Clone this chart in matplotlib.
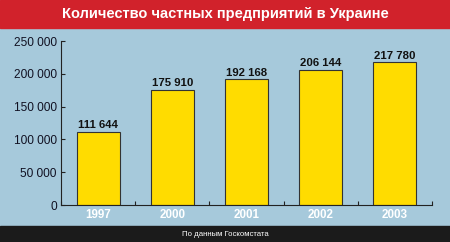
import matplotlib
matplotlib.use('Agg')
import matplotlib.pyplot as plt
import numpy as np

# данные
years = ['1997', '2000', '2001', '2002', '2003']
counts = [111644, 175910, 192168, 206144, 217780]
value_labels = ['111 644', '175 910', '192 168', '206 144', '217 780']
yticks = [0, 50000, 100000, 150000, 200000, 250000]
ytick_labels = ['0', '50 000', '100 000', '150 000', '200 000', '250 000']

title = 'Количество частных предприятий в Украине'
source = 'По данным Госкомстата'

plt.rcParams['font.family'] = ['Liberation Sans', 'DejaVu Sans']

fig = plt.figure(figsize=(4.5, 2.42), dpi=100)
fig.patch.set_facecolor('#a6c9db')

# красная шапка и чёрная подпись
fig.patches.append(plt.Rectangle((0, 1 - 28 / 242), 1, 28 / 242, transform=fig.transFigure,
                                 color='#d1222b', zorder=0))
fig.patches.append(plt.Rectangle((0, 0), 1, 16 / 242, transform=fig.transFigure,
                                 color='#1b1b1b', zorder=0))
fig.text(0.5, 1 - 14 / 242, title, color='white', fontsize=10.5, fontweight='bold',
         ha='center', va='center')
fig.text(0.5, 8 / 242, source, color='white', fontsize=5.6, ha='center', va='center')

ax = fig.add_axes([61 / 450, 1 - 205 / 242, (432 - 61) / 450, (205 - 41) / 242])
ax.set_facecolor('none')
x = np.arange(len(years))
ax.bar(x, counts, width=0.58, color='#ffdc00', edgecolor='#333333', linewidth=0.8, zorder=2)
for xi, v, lab in zip(x, counts, value_labels):
    ax.text(xi, v + 2000, lab, ha='center', va='bottom', fontsize=8.2,
            fontweight='bold', color='#111111')

ax.set_xlim(-0.5, len(years) - 0.5)
ax.set_ylim(0, 250000)
ax.set_yticks(yticks)
ax.set_yticklabels(ytick_labels, fontsize=8.6, color='#111122')
ax.set_xticks(x)
ax.set_xticklabels(years, fontsize=8.4, fontweight='bold', color='white')
ax.set_xticks(np.arange(len(years) + 1) - 0.5, minor=True)
ax.tick_params(axis='x', which='major', length=0, pad=3)
ax.tick_params(axis='x', which='minor', direction='in', length=3, width=0.8, color='#222222')
ax.tick_params(axis='y', direction='in', length=3, width=0.8, color='#222222', pad=3)
for s in ['top', 'right']:
    ax.spines[s].set_visible(False)
for s in ['left', 'bottom']:
    ax.spines[s].set_color('#222222')
    ax.spines[s].set_linewidth(0.8)

fig.savefig('out.png', dpi=100, facecolor=fig.get_facecolor())
